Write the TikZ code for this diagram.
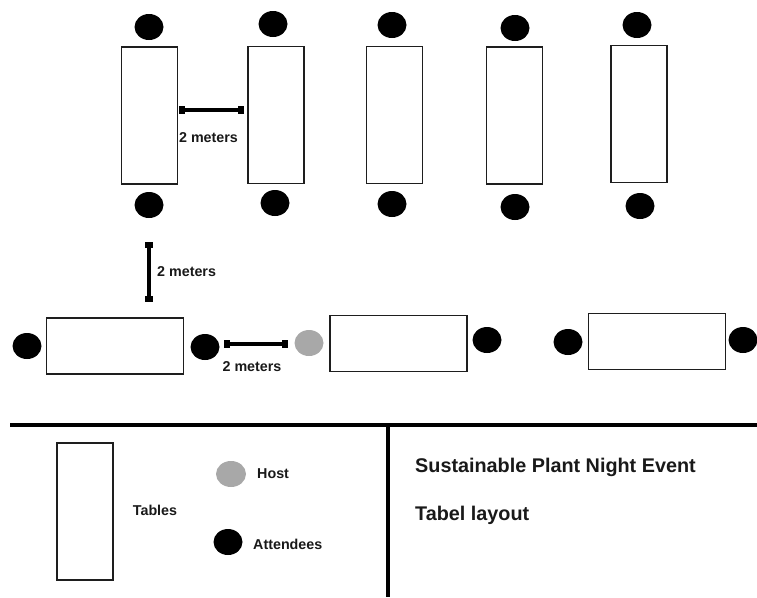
\documentclass[tikz,border=0pt]{standalone}
\usepackage{fontspec}
\setmainfont{Liberation Sans}
\usepackage{tikz}
\usetikzlibrary{positioning,arrows.meta,shapes.geometric}
\definecolor{PNline}{HTML}{1E1E1E}
\definecolor{PNhost}{HTML}{A8A8A8}
\tikzset{
  vtable/.style={draw=PNline, line width=1.8pt, fill=white, minimum width=56pt, minimum height=137pt, inner sep=0pt},
  htable/.style={draw=PNline, line width=1.8pt, fill=white, minimum width=137pt, minimum height=56pt, inner sep=0pt},
  attendee/.style={ellipse, fill=black, minimum width=29pt, minimum height=26pt, inner sep=0pt},
  hostseat/.style={ellipse, fill=PNhost, minimum width=29pt, minimum height=26pt, inner sep=0pt},
  measure/.style={{Square[length=6pt,width=7.5pt]}-{Square[length=6pt,width=7.5pt]}, line width=3.5pt, draw=black},
  divider/.style={line width=4pt, draw=black},
  lbl/.style={font=\fontsize{14.3}{17}\selectfont\bfseries, text=black!90, inner sep=0pt},
  headline/.style={font=\fontsize{19.8}{24}\selectfont\bfseries, text=black!90, inner sep=0pt}
}

\begin{document}
\begin{tikzpicture}[x=1pt, y=-1pt]
      \useasboundingbox (0,0) rectangle (757,597);
      % top row of tables
      \node[vtable] (t1) at (149.5,115.5) {};
      \node[vtable] (t2) at (276,115) {};
      \node[vtable] (t3) at (394.5,115) {};
      \node[vtable] (t4) at (514.5,115.5) {};
      \node[vtable] (t5) at (639,114) {};
      \node[attendee] (a1) at (149,27) {}; \node[attendee] (a2) at (273,24) {};
      \node[attendee] (a3) at (392,25) {}; \node[attendee] (a4) at (515,28) {};
      \node[attendee] (a5) at (637,25) {};
      \node[attendee] (a6) at (149,205) {}; \node[attendee] (a7) at (275,203) {};
      \node[attendee] (a8) at (392,204) {}; \node[attendee] (a9) at (515,207) {};
      \node[attendee] (a10) at (640,206) {};
      % bottom row of tables
      \node[htable] (b1) at (115,346) {};
      \node[htable] (b2) at (398.5,343.5) {};
      \node[htable] (b3) at (657,341.5) {};
      \node[attendee] (a11) at (27,346) {}; \node[attendee] (a12) at (205,347) {};
      \node[hostseat] (h1) at (309,343) {};
      \node[attendee] (a13) at (487,340) {}; \node[attendee] (a14) at (568,342) {};
      \node[attendee] (a15) at (743,340) {};
      % distances
      \coordinate (m1a) at (179,110); \coordinate (m1b) at (244,110);
      \coordinate (m2a) at (149,242); \coordinate (m2b) at (149,302);
      \coordinate (m3a) at (224,344); \coordinate (m3b) at (288,344);
      \draw[measure] (m1a) -- (m1b); \draw[measure] (m2a) -- (m2b); \draw[measure] (m3a) -- (m3b);
      \node[lbl] (d1) at (208.5,138) {2 meters};
      \node[lbl, anchor=west] (d2) at (157,272) {2 meters};
      \node[lbl] (d3) at (252,367) {2 meters};
      % legend frame
      \coordinate (f1) at (10,425); \coordinate (f2) at (757,425);
      \coordinate (f3) at (388,425); \coordinate (f4) at (388,597);
      \draw[divider] (f1) -- (f2); \draw[divider] (f3) -- (f4);
      \node[vtable] (lt) at (85,511.5) {};
      \node[lbl] (ltl) at (155,510) {Tables};
      \node[hostseat, minimum width=30pt] (lh) at (231,474) {};
      \node[lbl, anchor=west] (lhl) at (257,474) {Host};
      \node[attendee] (la) at (228,542) {};
      \node[lbl, anchor=west] (lal) at (253,544) {Attendees};
      \node[headline, anchor=west] (ttl) at (415,467) {Sustainable Plant Night Event};
      \node[headline, anchor=west] (sub) at (415,515) {Tabel layout};
    \end{tikzpicture}
\end{document}
